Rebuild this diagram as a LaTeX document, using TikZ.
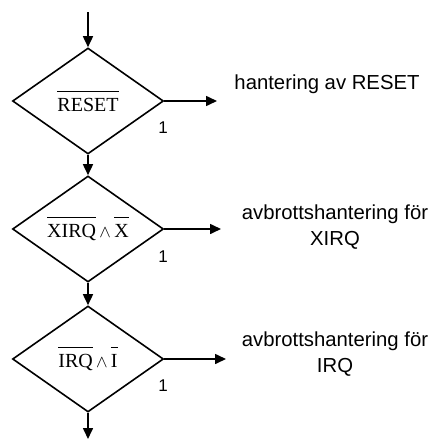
\documentclass[tikz,border=0pt]{standalone}
\usepackage{fontspec}
\setmainfont{Liberation Sans}
\newfontfamily\condfont{Liberation Serif}
\usetikzlibrary{shapes.geometric,arrows.meta}

% overlined condition term set in the serif face, bar raised well above the caps
\newcommand{\negterm}[1]{$\overline{\hbox{\condfont\rule{0pt}{19pt}#1}}$}
\newcommand{\andsym}{\,{\fontsize{17}{17}\selectfont$\wedge$}\,}

\begin{document}
\begin{tikzpicture}[x=1pt,y=-1pt,
  line width=1.6pt,
  flow/.style={-{Triangle[length=11pt,width=10pt]}},
  decision/.style={diamond,draw,inner sep=0pt,aspect=1.42,
    minimum width=151pt,minimum height=106pt,
    font=\fontsize{20}{22}\selectfont},
  branch/.style={font=\fontsize{17}{19}\selectfont},
  action/.style={align=center,font=\fontsize{20.3}{26}\selectfont}]
\useasboundingbox (0,0) rectangle (431,439);

\coordinate (start) at (88,12);
\node[decision] (d1) at (88,101) {\negterm{RESET}};
\node[decision] (d2) at (88,229) {\negterm{XIRQ}\andsym\negterm{X}};
\node[decision] (d3) at (88,359) {\negterm{IRQ}\andsym\negterm{I}};
\coordinate (finish) at (88,439);

\coordinate (o1) at (217,101);
\coordinate (o2) at (221,229);
\coordinate (o3) at (226,359);

\draw[flow] (start) -- (d1.north);
\draw[flow] (d1.south) -- (d2.north);
\draw[flow] (d2.south) -- (d3.north);
\draw[flow] (d3.south) -- (finish);

\draw[flow] (d1.east) -- (o1);
\draw[flow] (d2.east) -- (o2);
\draw[flow] (d3.east) -- (o3);

\node[branch] (y1) at (163,128) {1};
\node[branch] (y2) at (163,257) {1};
\node[branch] (y3) at (163,386) {1};

\node[action] (a1) at (327,84) {hantering av RESET};
\node[action] (a2) at (335,227) {avbrottshantering för\\XIRQ};
\node[action] (a3) at (335,354) {avbrottshantering för\\IRQ};
\end{tikzpicture}
\end{document}
